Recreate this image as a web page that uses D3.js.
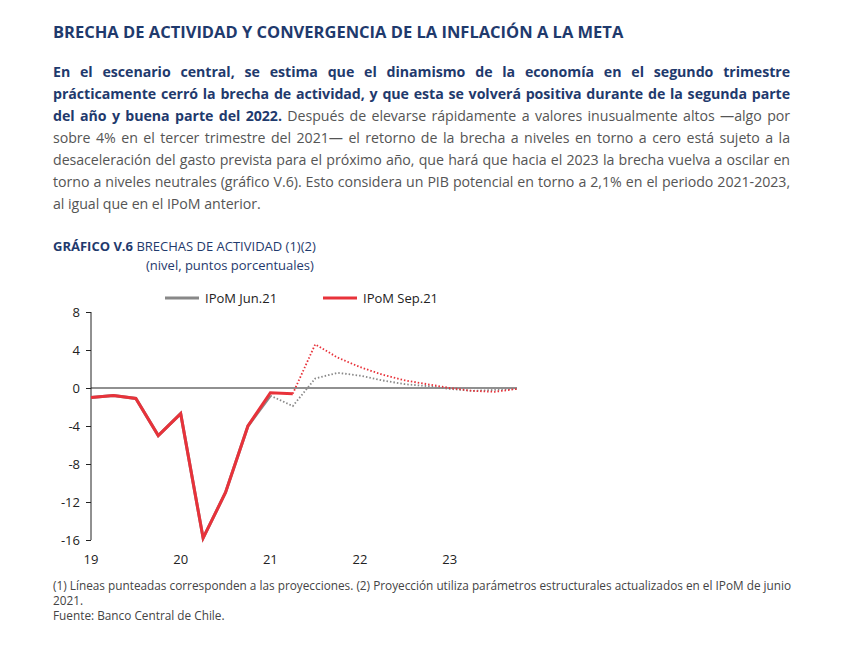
<!DOCTYPE html>
<html><head><meta charset="utf-8">
<script src="https://cdn.jsdelivr.net/npm/d3@7"></script>
<style>
body{margin:0;background:#fff;font-family:"Open Sans",sans-serif;}
#t{position:absolute;left:53px;top:20px;font-size:16.5px;font-weight:bold;color:#1f3a6d;}
#p{position:absolute;left:53px;top:61px;width:737px;font-size:14.2px;line-height:22px;text-align:justify;color:#555;letter-spacing:-0.05px;}
#p b{color:#1f3a6d;}
#note{position:absolute;left:53px;top:578px;width:740px;font-size:11.8px;line-height:15px;color:#444;}
</style></head><body>
<div id="t">BRECHA DE ACTIVIDAD Y CONVERGENCIA DE LA INFLACIÓN A LA META</div>
<div id="p"><b>En el escenario central, se estima que el dinamismo de la economía en el segundo trimestre prácticamente cerró la brecha de actividad, y que esta se volverá positiva durante de la segunda parte del año y buena parte del 2022.</b> Después de elevarse rápidamente a valores inusualmente altos —algo por sobre 4% en el tercer trimestre del 2021— el retorno de la brecha a niveles en torno a cero está sujeto a la desaceleración del gasto prevista para el próximo año, que hará que hacia el 2023 la brecha vuelva a oscilar en torno a niveles neutrales (gráfico V.6). Esto considera un PIB potencial en torno a 2,1% en el periodo 2021-2023, al igual que en el IPoM anterior.</div>
<div id="note">(1) Líneas punteadas corresponden a las proyecciones. (2) Proyección utiliza parámetros estructurales actualizados en el IPoM de junio 2021.<br>Fuente: Banco Central de Chile.</div>
<svg id="c" width="849" height="645" style="position:absolute;left:0;top:0"></svg>
<script>
// quarters 19Q1..23Q4 as index 0..19
var sepActual = [-1.0, -0.8, -1.1, -5.0, -2.7, -15.8, -11.0, -4.0, -0.5, -0.6];
var sepProj = [-0.6, 4.6, 3.2, 2.2, 1.4, 0.8, 0.4, 0.0, -0.3, -0.4, -0.1]; // from 21Q2
var junActual = [-1.0, -0.8, -1.1, -5.0, -2.7, -15.8, -11.0, -4.0, -0.8];
var junProj = [-0.8, -1.9, 1.0, 1.6, 1.3, 0.8, 0.4, 0.2, -0.1, -0.3, -0.2, -0.1]; // from 21Q1
var yTicks = [8, 4, 0, -4, -8, -12, -16];
var years = ["19", "20", "21", "22", "23"];

var svg = d3.select("#c");
svg.append("text").attr("x", 53).attr("y", 251).attr("font-size", 13).attr("fill", "#1f3a6d")
  .html('<tspan font-weight="bold">GRÁFICO V.6</tspan> BRECHAS DE ACTIVIDAD (1)(2)');
svg.append("text").attr("x", 146).attr("y", 270).attr("font-size", 13).attr("fill", "#1f3a6d")
  .text("(nivel, puntos porcentuales)");

var x = d3.scaleLinear().domain([0, 19]).range([91, 517]);
var y = d3.scaleLinear().domain([-16, 8]).range([540, 312]);

svg.append("g").attr("transform", "translate(91,0)")
  .call(d3.axisLeft(y).tickValues(yTicks).tickSize(5).tickFormat(function (d) { return String(d); }))
  .call(function (g) {
    g.select(".domain").attr("stroke", "#222").attr("d", "M0," + y(8) + "V" + y(-16));
    g.selectAll("text").attr("font-size", 13).attr("font-family", "Open Sans").attr("fill", "#222").attr("dx", -3);
    g.selectAll("line").attr("stroke", "#222");
  });
svg.selectAll(".yr").data(years).enter().append("text")
  .attr("x", function (d, i) { return x(i * 4); }).attr("y", 564)
  .attr("text-anchor", "middle").attr("font-size", 13).attr("fill", "#222").text(function (d) { return d; });

svg.append("line").attr("x1", x(0)).attr("x2", x(19)).attr("y1", y(0)).attr("y2", y(0)).attr("stroke", "#222").attr("stroke-width", 1.2);

var line = d3.line().x(function (d) { return x(d[0]); }).y(function (d) { return y(d[1]); });
function pts(arr, start) { return arr.map(function (v, i) { return [start + i, v]; }); }

svg.append("path").attr("d", line(pts(junProj, 8))).attr("fill", "none").attr("stroke", "#888").attr("stroke-width", 1.8).attr("stroke-dasharray", "1.5,2");
svg.append("path").attr("d", line(pts(sepProj, 9))).attr("fill", "none").attr("stroke", "#e8323a").attr("stroke-width", 1.8).attr("stroke-dasharray", "1.5,2");
svg.append("path").attr("d", line(pts(junActual, 0))).attr("fill", "none").attr("stroke", "#888").attr("stroke-width", 3);
svg.append("path").attr("d", line(pts(sepActual, 0))).attr("fill", "none").attr("stroke", "#e8323a").attr("stroke-width", 3);

// legend
var leg = [["IPoM Jun.21", "#888", 165], ["IPoM Sep.21", "#e8323a", 323]];
leg.forEach(function (l) {
  svg.append("line").attr("x1", l[2]).attr("x2", l[2] + 34).attr("y1", 298).attr("y2", 298).attr("stroke", l[1]).attr("stroke-width", 3);
  svg.append("text").attr("x", l[2] + 40).attr("y", 303).attr("font-size", 13).attr("fill", "#222").text(l[0]);
});
</script></body></html>
